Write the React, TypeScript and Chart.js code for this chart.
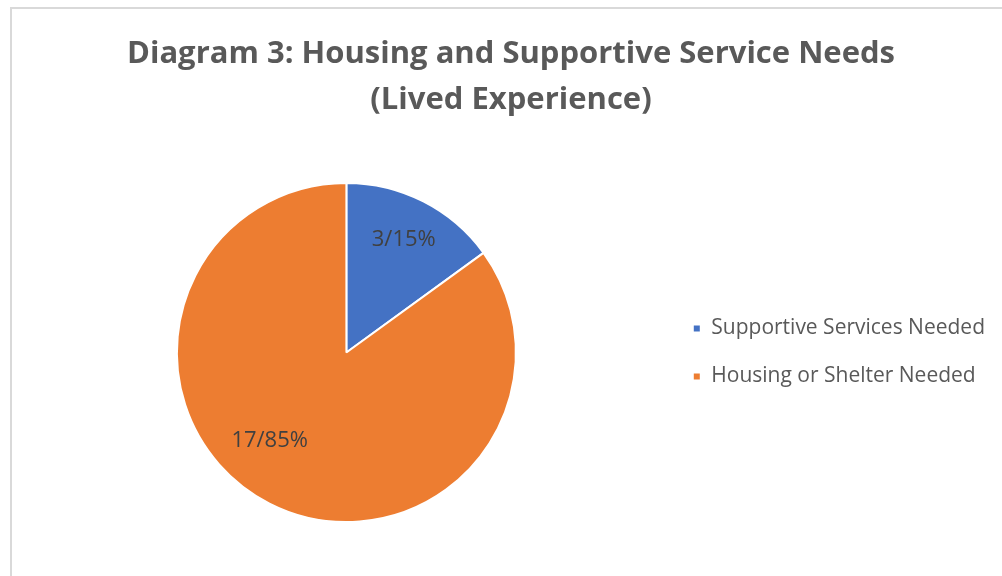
import React, { useEffect, useRef } from "react";
import { Chart, registerables } from "chart.js";

Chart.register(...registerables);

const categories = ["Supportive Services Needed", "Housing or Shelter Needed"];
const counts = [3, 17];
const colors = ["#4472C4", "#ED7D31"];
const titleLines = ["Diagram 3: Housing and Supportive Service Needs", "(Lived Experience)"];
// label placement (fraction of radius, angle shift in degrees from slice middle)
const labelRadius = [0.745, 0.69];
const labelAngleShift = [0, 14];

const sliceLabels = {
  id: "sliceLabels",
  afterDatasetsDraw(chart: any) {
    const ctx = chart.ctx;
    const meta = chart.getDatasetMeta(0);
    const data = chart.data.datasets[0].data as number[];
    const total = data.reduce((a, b) => a + b, 0);
    ctx.save();
    ctx.font = "22px 'Open Sans'";
    ctx.fillStyle = "#404040";
    ctx.textAlign = "center";
    ctx.textBaseline = "middle";
    meta.data.forEach((arc: any, i: number) => {
      const { x, y, startAngle, endAngle, outerRadius } = arc.getProps(
        ["x", "y", "startAngle", "endAngle", "outerRadius"],
        true
      );
      const mid = (startAngle + endAngle) / 2 + (labelAngleShift[i] * Math.PI) / 180;
      const r = outerRadius * labelRadius[i];
      const pct = Math.round((data[i] / total) * 100);
      ctx.fillText(`${data[i]}/${pct}%`, x + Math.cos(mid) * r, y + Math.sin(mid) * r);
    });
    ctx.restore();
  },
};

export default function App() {
  const ref = useRef<HTMLCanvasElement | null>(null);
  useEffect(() => {
    if (!ref.current) return;
    const chart = new Chart(ref.current, {
      type: "pie",
      data: {
        labels: categories,
        datasets: [
          {
            data: counts,
            backgroundColor: colors,
            borderColor: "#ffffff",
            borderWidth: 2,
          },
        ],
      },
      options: {
        responsive: false,
        animation: false,
        events: [],
        layout: { padding: { left: 27, right: 31, top: 0, bottom: 53 } },
        plugins: {
          tooltip: { enabled: false },
          title: {
            display: true,
            text: titleLines,
            color: "#595959",
            font: { family: "'Open Sans'", size: 31, weight: "bold", lineHeight: 46 / 31 },
            padding: { top: 31, bottom: 59 },
          },
          legend: {
            position: "right",
            align: "center",
            fullSize: false,
            labels: {
              boxWidth: 8,
              boxHeight: 8,
              padding: 27,
              color: "#595959",
              font: { family: "'Open Sans'", size: 21 },
            },
          },
        },
      },
      plugins: [sliceLabels],
    });
    return () => chart.destroy();
  }, []);

  return (
    <div
      style={{
        position: "fixed",
        left: 0,
        top: 0,
        width: "100vw",
        height: "100vh",
        overflow: "hidden",
        background: "#ffffff",
      }}
    >
      <div
        style={{
          position: "absolute",
          left: 10,
          top: 7,
          width: 3000,
          height: 3000,
          borderLeft: "2px solid #d9d9d9",
          borderTop: "2px solid #d9d9d9",
        }}
      />
      <canvas
        ref={ref}
        width={1026}
        height={576}
        style={{ position: "absolute", left: 0, top: 0, width: 1026, height: 576 }}
      />
    </div>
  );
}
